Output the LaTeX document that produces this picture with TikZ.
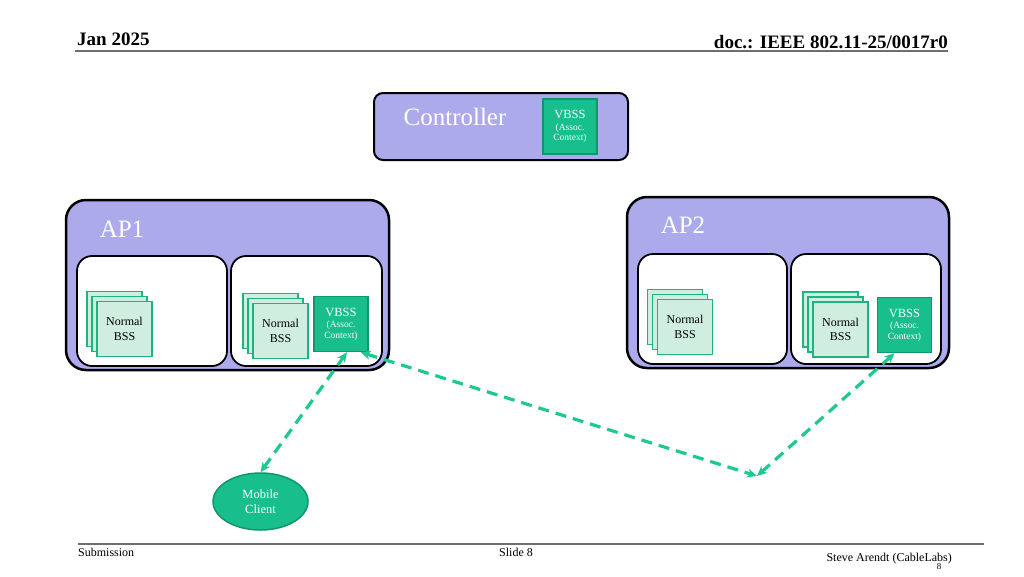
\documentclass[tikz,border=0pt]{standalone}
\usepackage{fontspec}
\setmainfont{Liberation Serif}
\usetikzlibrary{arrows.meta,shapes.geometric}
\definecolor{lav}{RGB}{172,170,235}
\definecolor{vfill}{RGB}{24,190,140}
\definecolor{vdraw}{RGB}{16,150,108}
\definecolor{nfill}{RGB}{208,238,224}
\definecolor{ndraw}{RGB}{30,180,130}
\definecolor{conncol}{RGB}{30,200,145}
\definecolor{hdrline}{RGB}{110,110,110}
\tikzset{
  apbox/.style={draw=black, line width=2.5pt, fill=lav, rounded corners=20pt, inner sep=0pt},
  ctrlbox/.style={draw=black, line width=2pt, fill=lav, rounded corners=9pt, inner sep=0pt},
  innerbox/.style={draw=black, line width=1.8pt, fill=white, rounded corners=15pt, inner sep=0pt},
  vbssbox/.style={draw=vdraw, line width=1.5pt, fill=vfill, inner sep=0pt, minimum width=54pt, minimum height=55pt, text=white, align=center, font=\fontsize{9.5}{12.5}\selectfont},
  bssbox/.style={draw=ndraw, line width=1.5pt, fill=nfill, inner sep=0pt, minimum width=55pt, minimum height=55pt, align=center, font=\fontsize{12}{14.5}\selectfont},
  bigtxt/.style={text=white, font=\fontsize{25}{28}\selectfont, inner sep=0pt},
  conn/.style={draw=conncol, line width=3.2pt, dash pattern=on 11pt off 7pt, {Stealth[length=10pt,width=9pt]}-{Stealth[length=10pt,width=9pt]}},
  hdr/.style={font=\bfseries\fontsize{19}{22}\selectfont, inner sep=0pt},
  ftr/.style={font=\fontsize{12}{14}\selectfont, inner sep=0pt},
}
\newcommand{\mkstack}[4]{% name, x, y, text
  \node[bssbox] (#1c) at (#2-10,#3-10) {};
  \node[bssbox] (#1b) at (#2-5,#3-5) {};
  \node[bssbox] (#1) at (#2,#3) {#4};
}
\newcommand{\vbsstext}{{\fontsize{12.5}{13}\selectfont VBSS}\\[-1pt](Assoc.\\[-2pt]Context)}
\begin{document}
\begin{tikzpicture}[x=1pt,y=-1pt]
\useasboundingbox (0,0) rectangle (1024,576);
% header
\node[hdr, anchor=base west] (date) at (77,45) {Jan 2025};
\node[hdr, anchor=base east] (doc) at (948,48) {doc.: IEEE 802.11-25/0017r0};
\coordinate (hl) at (75,51);
\coordinate (hr) at (948,51);
\draw[hdrline, line width=2pt] (hl) -- (hr);
% footer
\coordinate (fl) at (78,544);
\coordinate (fr) at (984,544);
\draw[hdrline, line width=2pt] (fl) -- (fr);
\node[ftr, anchor=base west] (sub) at (78,556) {Submission};
\node[ftr, anchor=base] (slide) at (516,556) {Slide 8};
\node[ftr, anchor=base east] (auth) at (952,561) {Steve Arendt (CableLabs)};
\node[ftr, anchor=north, font=\fontsize{9}{10}\selectfont] (pg) at (939,563) {8};
% controller
\node[ctrlbox, minimum width=254pt, minimum height=67pt] (ctrl) at (501,126.5) {};
\node[bigtxt, anchor=base] (ctrltxt) at (455,125) {Controller};
\node[vbssbox] (vbssc) at (570,126.5) {\vbsstext};
% AP1
\node[apbox, minimum width=323pt, minimum height=170pt] (ap1) at (227.5,285) {};
\node[bigtxt, anchor=base] (ap1txt) at (122,237) {AP1};
\node[innerbox, minimum width=150pt, minimum height=110pt] (ap1l) at (152,311) {};
\node[innerbox, minimum width=151pt, minimum height=110pt] (ap1r) at (306.5,311) {};
\mkstack{bss1}{124.5}{329}{Normal\\BSS}
\mkstack{bss2}{280.5}{331}{Normal\\BSS}
\node[vbssbox] (vbss1) at (341,324) {\vbsstext};
% AP2
\node[apbox, minimum width=322pt, minimum height=171pt] (ap2) at (788,282.5) {};
\node[bigtxt, anchor=base] (ap2txt) at (683,233) {AP2};
\node[innerbox, minimum width=149pt, minimum height=110pt] (ap2l) at (712.5,309) {};
\node[innerbox, minimum width=150pt, minimum height=110pt] (ap2r) at (866,309) {};
\mkstack{bss3}{685}{327}{Normal\\BSS}
\mkstack{bss4}{840.5}{329.5}{Normal\\BSS}
\node[vbssbox] (vbss2) at (904.5,325) {\vbsstext};
% mobile client
\node[draw=vdraw, line width=1.5pt, fill=vfill, ellipse, minimum width=95pt, minimum height=57pt, inner sep=0pt, text=white, align=center, font=\fontsize{12.5}{15}\selectfont] (client) at (260.5,501.5) {Mobile\\Client};
% connectors
\coordinate (mid) at (757,476);
\draw[conn] (client.north) -- ([xshift=6pt]vbss1.south);
\draw[conn] ([xshift=-8pt]vbss1.south east) -- (mid);
\draw[conn] (mid) -- ([xshift=-10pt]vbss2.south);
\end{tikzpicture}
\end{document}
